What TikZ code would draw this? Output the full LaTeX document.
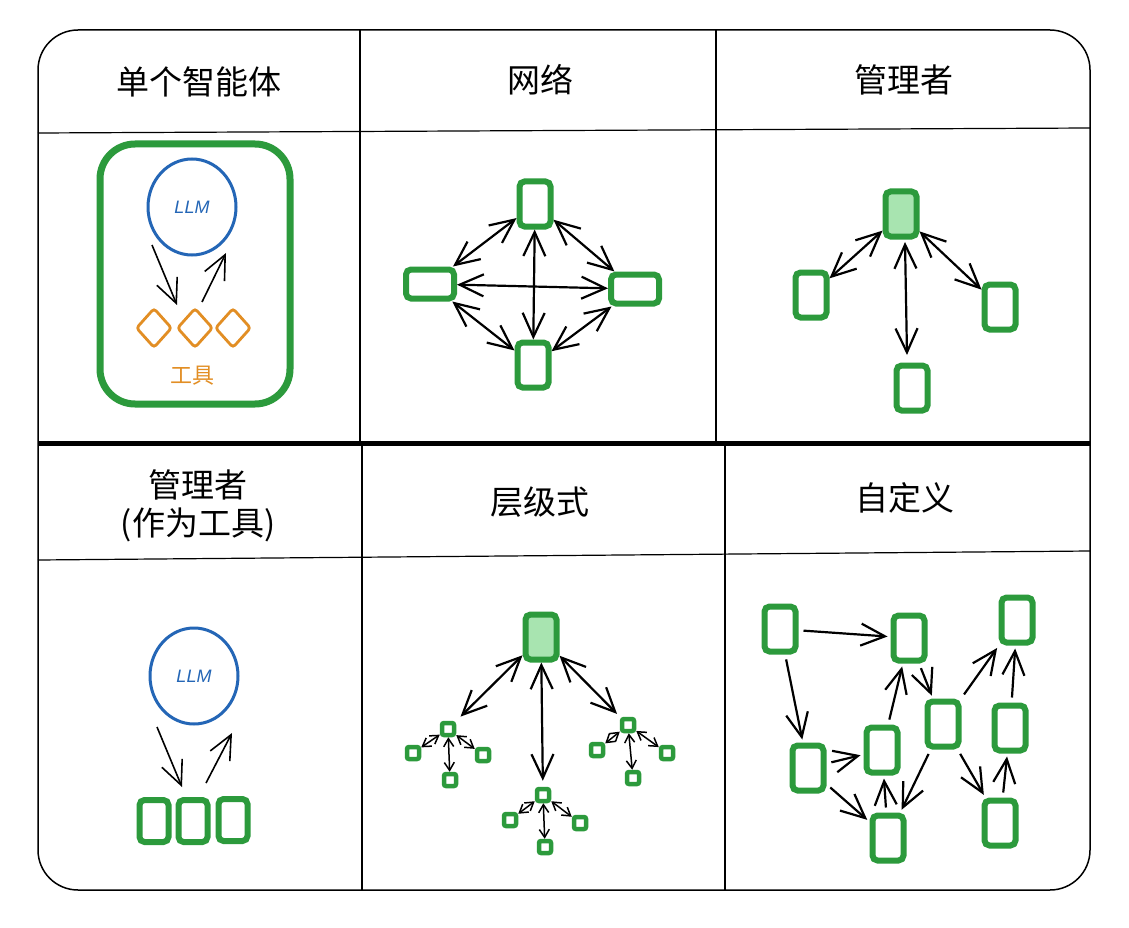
\documentclass[tikz,border=0pt]{standalone}
\usepackage{fontspec}
\setmainfont{Noto Sans CJK SC}
\newfontfamily\llmfont{Liberation Sans}
\usetikzlibrary{arrows.meta,positioning,shapes.geometric}
\definecolor{agentgreen}{RGB}{44,154,60}
\definecolor{bossfill}{RGB}{168,228,176}
\definecolor{llmblue}{RGB}{36,102,182}
\definecolor{toolorange}{RGB}{226,142,36}

\begin{document}
\begin{tikzpicture}
[
x=1pt, y=-1pt,
every node/.style={inner sep=0pt},
head/.style={font=\fontsize{33}{38}\selectfont, align=center},
agent/.style={draw=agentgreen, line width=6pt, rounded corners=5pt, minimum width=31pt, minimum height=45pt},
boss/.style={agent, fill=bossfill},
tiny/.style={draw=agentgreen, line width=4.5pt, rounded corners=2pt, minimum size=12pt},
llm/.style={ellipse, draw=llmblue, line width=3pt, minimum width=88pt, minimum height=96pt, text=llmblue, font=\llmfont\itshape\fontsize{18}{20}\selectfont},
tool/.style={diamond, draw=toolorange, line width=2.8pt, rounded corners=3pt, minimum width=36pt, minimum height=40pt},
barb/.tip={Straight Barb[length=24pt 0, width=22pt 0]},
smallbarb/.tip={Straight Barb[length=8pt 0, width=10pt 0]},
link/.style={-barb, line width=2.2pt, shorten <=5pt, shorten >=3pt},
twoway/.style={barb-barb, line width=2.2pt},
minilink/.style={smallbarb-smallbarb, line width=1.5pt}
]

\fill[white] (0,0) rectangle (1129,928);
\draw[line width=1.5pt, rounded corners=40pt] (38,30) rectangle (1090,890);
\draw[line width=1.2pt] (38,133) -- (1090,128);
\draw[line width=1.2pt] (38,560) -- (1090,551);
\draw[line width=1.2pt] (360,30) -- (360,443);
\draw[line width=1.2pt] (716,30) -- (716,443);
\draw[line width=1.2pt] (362,443) -- (362,890);
\draw[line width=1.2pt] (725,443) -- (725,890);
\draw[line width=5pt] (38,443) -- (1090,443);

\node[head] (h1) at (199,82) {单个智能体};
\node[head] (h2) at (540,80) {网络};
\node[head] (h3) at (904,80) {管理者};
\node[head] (h4) at (198,506) {管理者\\(作为工具)};
\node[head] (h5) at (540,502) {层级式};
\node[head] (h6) at (905,498) {自定义};

\node[draw=agentgreen, line width=7pt, rounded corners=35pt, minimum width=190pt, minimum height=260pt] (agentbox) at (195,274) {};
\node[llm] (llm1) at (192,207) {LLM};
\node[tool] (t1) at (154,328) {};
\node[tool] (t2) at (195,328) {};
\node[tool] (t3) at (233,328) {};
\node[text=toolorange, font=\fontsize{22}{26}\selectfont] (tools) at (192,376) {工具};
\coordinate (d1) at (152,245);
\coordinate (t2in) at (177,305);
\coordinate (t2out) at (202,302);
\coordinate (u1) at (226,253);
\draw[link, line width=1.6pt, shorten <=0pt, shorten >=0pt] (d1) -- (t2in);
\draw[link, line width=1.6pt, shorten <=0pt, shorten >=0pt] (t2out) -- (u1);

\node[agent] (ntop) at (535,204) {};
\node[agent, minimum width=48pt, minimum height=29pt] (nleft) at (430,284) {};
\node[agent, minimum width=48pt, minimum height=29pt] (nright) at (635,289) {};
\node[agent] (nbot) at (533,365) {};
\draw[twoway] (ntop) -- (nleft);
\draw[twoway] (ntop) -- (nright);
\draw[twoway] (nbot) -- (nleft);
\draw[twoway] (nbot) -- (nright);
\draw[twoway] (nleft) -- (nright);
\draw[twoway] (ntop) -- (nbot);

\node[boss] (mtop) at (901,214) {};
\node[agent] (mleft) at (811,295) {};
\node[agent] (mright) at (1000,307) {};
\node[agent] (mbot) at (912,388) {};
\draw[twoway] (mtop) -- (mleft);
\draw[twoway] (mtop) -- (mright);
\coordinate (mtopb) at (905,242);
\coordinate (mbotb) at (907,355);
\draw[twoway] (mtopb) -- (mbotb);

\node[llm] (llm2) at (194,676) {LLM};
\node[agent, minimum width=29pt, minimum height=42pt] (w1) at (154,821) {};
\node[agent, minimum width=29pt, minimum height=42pt] (w2) at (193,821) {};
\node[agent, minimum width=29pt, minimum height=42pt] (w3) at (233,820) {};
\coordinate (d2) at (157,727);
\coordinate (w2in) at (182,787);
\coordinate (w2out) at (206,783);
\coordinate (u2) at (232,733);
\draw[link, line width=1.6pt, shorten <=0pt, shorten >=0pt] (d2) -- (w2in);
\draw[link, line width=1.6pt, shorten <=0pt, shorten >=0pt] (w2out) -- (u2);

\node[boss] (root) at (541,637) {};
\node[tiny] (kl) at (448,729) {};
\node[tiny] (km) at (543,795) {};
\node[tiny] (kr) at (628,725) {};
\draw[twoway, shorten >=6pt] (root) -- (kl);
\draw[twoway, shorten >=6pt] (root) -- (km);
\draw[twoway, shorten >=4pt] (root) -- (kr);
\node[tiny] (kl1) at (413,753) {};
\node[tiny] (kl2) at (450,780) {};
\node[tiny] (kl3) at (483,755) {};
\node[tiny] (km1) at (510,820) {};
\node[tiny] (km2) at (545,847) {};
\node[tiny] (km3) at (580,823) {};
\node[tiny] (kr1) at (597,750) {};
\node[tiny] (kr2) at (633,778) {};
\node[tiny] (kr3) at (667,753) {};
\foreach \p in {kl,km,kr}
  \foreach \c in {1,2,3}
    \draw[minilink] (\p) -- (\p\c);

\node[agent] (ca) at (780,629) {};
\node[agent] (cb) at (909,638) {};
\node[agent] (cc) at (1017,620) {};
\node[agent] (cd) at (943,724) {};
\node[agent] (ce) at (1010,728) {};
\node[agent] (cf) at (882,750) {};
\node[agent] (cg) at (808,768) {};
\node[agent] (ch) at (888,838) {};
\node[agent] (ci) at (1000,823) {};
\draw[link] (ca) -- (cb);
\draw[link] (ca) -- (cg);
\draw[link] (cg) -- (cf);
\draw[link] (cg) -- (ch);
\draw[link] (ch) -- (cf);
\draw[link] (cf) -- (cb);
\draw[link] (cb) -- (cd);
\draw[link] (cd) -- (cc);
\draw[link] (cd) -- (ch);
\draw[link] (cd) -- (ci);
\draw[link] (ci) -- (ce);
\draw[link] (ce) -- (cc);
\end{tikzpicture}
\end{document}
